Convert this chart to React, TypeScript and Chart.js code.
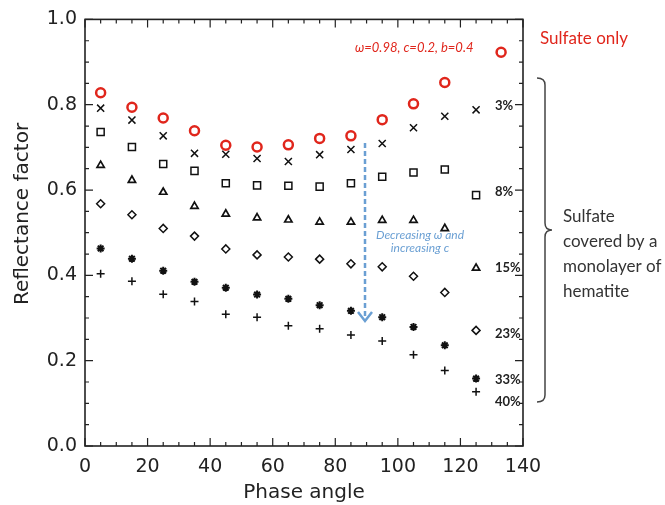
import React, { useEffect, useRef } from "react";
import { Chart, registerables } from "chart.js";

Chart.register(...registerables);

// Phase angles (degrees)
const angles = [5, 15, 25, 35, 45, 55, 65, 75, 85, 95, 105, 115, 125];
const sulfateAngles = [5, 15, 25, 35, 45, 55, 65, 75, 85, 95, 105, 115, 133];

// Reflectance factor series
const sulfateOnly = [0.828, 0.794, 0.769, 0.739, 0.705, 0.701, 0.706, 0.721, 0.727, 0.765, 0.802, 0.852, 0.923];
const hem3 = [0.792, 0.764, 0.727, 0.686, 0.684, 0.674, 0.667, 0.683, 0.695, 0.709, 0.746, 0.773, 0.788];
const hem8 = [0.736, 0.701, 0.661, 0.645, 0.616, 0.611, 0.61, 0.608, 0.616, 0.631, 0.641, 0.648, 0.588];
const hem15 = [0.658, 0.623, 0.595, 0.562, 0.544, 0.535, 0.53, 0.525, 0.525, 0.529, 0.529, 0.51, 0.417];
const hem23 = [0.568, 0.542, 0.51, 0.492, 0.462, 0.448, 0.443, 0.438, 0.427, 0.42, 0.398, 0.36, 0.271];
const hem33 = [0.463, 0.439, 0.411, 0.385, 0.371, 0.355, 0.345, 0.33, 0.317, 0.302, 0.279, 0.236, 0.158];
const hem40 = [0.404, 0.386, 0.356, 0.339, 0.309, 0.302, 0.282, 0.275, 0.26, 0.246, 0.214, 0.177, 0.127];

// Tick settings
const xMin = 0, xMax = 140, xMajor = 20, xMinor = 5;
const yMin = 0, yMax = 1, yMajor = 0.2, yMinor = 0.05;

// Coverage labels on the right (label, value position)
const coverageLabels = ["3%", "8%", "15%", "23%", "33%", "40%"];
const coverageLabelY = [0.798, 0.596, 0.417, 0.264, 0.155, 0.103];

const toPts = (xs: number[], ys: number[]) => ys.map((y, i) => ({ x: xs[i], y }));

const frameAndText = {
  id: "frameAndText",
  afterDraw(chart: any) {
    const { ctx, chartArea: a, scales } = chart;
    const xs = scales.x, ys = scales.y;
    ctx.save();
    // frame
    ctx.strokeStyle = "#222";
    ctx.lineWidth = 1.6;
    ctx.strokeRect(a.left, a.top, a.right - a.left, a.bottom - a.top);
    ctx.lineWidth = 1.2;
    ctx.beginPath();
    for (let v = xMin; v <= xMax + 1e-9; v += xMinor) {
      const p = xs.getPixelForValue(v);
      const major = Math.abs(v / xMajor - Math.round(v / xMajor)) < 1e-6;
      const len = major ? 8 : 4;
      ctx.moveTo(p, a.bottom); ctx.lineTo(p, a.bottom - len);
      ctx.moveTo(p, a.top); ctx.lineTo(p, a.top + len);
    }
    for (let v = yMin; v <= yMax + 1e-9; v += yMinor) {
      const p = ys.getPixelForValue(v);
      const major = Math.abs(v / yMajor - Math.round(v / yMajor)) < 1e-6;
      const len = major ? 8 : 4;
      ctx.moveTo(a.left, p); ctx.lineTo(a.left + len, p);
      ctx.moveTo(a.right, p); ctx.lineTo(a.right - len, p);
    }
    ctx.stroke();

    // axis titles
    ctx.fillStyle = "#222";
    ctx.font = "20px 'DejaVu Sans'";
    ctx.textAlign = "center";
    ctx.textBaseline = "middle";
    ctx.fillText("Phase angle", (a.left + a.right) / 2, 493);
    ctx.save();
    ctx.translate(23, 214);
    ctx.rotate(-Math.PI / 2);
    ctx.fillText("Reflectance factor", 0, 0);
    ctx.restore();

    // coverage labels
    ctx.font = "bold 13px Lato";
    ctx.textAlign = "left";
    ctx.fillStyle = "#222";
    coverageLabels.forEach((t, i) => {
      ctx.fillText(t, 495, ys.getPixelForValue(coverageLabelY[i]));
    });

    // red annotations
    ctx.fillStyle = "#e0261c";
    ctx.font = "italic 13px Lato";
    ctx.textAlign = "left";
    ctx.fillText("ω=0.98, c=0.2, b=0.4", 355, 48);
    ctx.font = "17px Lato";
    ctx.fillText("Sulfate only", 540, 39);

    // brace
    ctx.strokeStyle = "#444";
    ctx.lineWidth = 1.5;
    ctx.beginPath();
    const bx = 537, top = 78, bot = 402, mid = 230, sx = 545, tip = 552;
    ctx.moveTo(bx, top);
    ctx.quadraticCurveTo(sx, top, sx, top + 7);
    ctx.lineTo(sx, mid - 7);
    ctx.quadraticCurveTo(sx, mid, tip, mid);
    ctx.quadraticCurveTo(sx, mid, sx, mid + 7);
    ctx.lineTo(sx, bot - 7);
    ctx.quadraticCurveTo(sx, bot, bx, bot);
    ctx.stroke();

    ctx.fillStyle = "#333";
    ctx.font = "17px Lato";
    ["Sulfate", "covered by a", "monolayer of", "hematite"].forEach((t, i) => {
      ctx.fillText(t, 563, 217 + i * 25);
    });

    // blue dashed arrow
    const ax = xs.getPixelForValue(89.5);
    ctx.strokeStyle = "#6a9fd3";
    ctx.lineWidth = 2.5;
    ctx.setLineDash([5, 3]);
    ctx.beginPath();
    ctx.moveTo(ax, 143);
    ctx.lineTo(ax, 320);
    ctx.stroke();
    ctx.setLineDash([]);
    ctx.beginPath();
    ctx.moveTo(ax - 7, 312);
    ctx.lineTo(ax, 321);
    ctx.lineTo(ax + 7, 312);
    ctx.stroke();

    ctx.fillStyle = "#6a9fd3";
    ctx.font = "italic 12px Lato";
    ctx.textAlign = "center";
    ctx.fillText("Decreasing ω and", 420, 235);
    ctx.fillText("increasing c", 420, 248);
    ctx.restore();
  },
};

export default function App() {
  const ref = useRef<HTMLCanvasElement | null>(null);
  useEffect(() => {
    if (!ref.current) return;
    const black = "#111";
    const mk = (label: string, data: any[], style: string, r: number, color = black, lw = 1.5) => ({
      label,
      data,
      pointStyle: style,
      pointRadius: r,
      pointBorderColor: color,
      pointBackgroundColor: "rgba(0,0,0,0)",
      pointBorderWidth: lw,
      showLine: false,
    });
    const chart = new Chart(ref.current, {
      type: "scatter",
      data: {
        datasets: [
          mk("Sulfate only", toPts(sulfateAngles, sulfateOnly), "circle", 4.5, "#e0261c", 2.5),
          mk("3%", toPts(angles, hem3), "crossRot", 5),
          mk("8%", toPts(angles, hem8), "rect", 5),
          mk("15%", toPts(angles, hem15), "triangle", 4.2, black, 1.7),
          mk("23%", toPts(angles, hem23), "rectRot", 4),
          mk("33%", toPts(angles, hem33), "star", 4, black, 2),
          mk("40%", toPts(angles, hem40), "cross", 4),
        ] as any,
      },
      options: {
        animation: false,
        responsive: false,
        devicePixelRatio: 1,
        layout: { padding: { top: 6, right: 142, left: 0, bottom: 0 } },
        plugins: { legend: { display: false }, tooltip: { enabled: false } },
        scales: {
          x: {
            type: "linear",
            min: xMin,
            max: xMax,
            grid: { display: false, drawTicks: false },
            border: { display: false },
            ticks: { stepSize: xMajor, color: "#222", font: { family: "DejaVu Sans", size: 19 }, padding: 10, maxRotation: 0 },
            afterFit: (s: any) => { s.height = 59; },
          },
          y: {
            type: "linear",
            min: yMin,
            max: yMax,
            grid: { display: false, drawTicks: false },
            border: { display: false },
            ticks: {
              stepSize: yMajor,
              color: "#222",
              font: { family: "DejaVu Sans", size: 19 },
              padding: 8,
              callback: (v: any) => Number(v).toFixed(1),
            },
            afterFit: (s: any) => { s.width = 85; },
          },
        },
      },
      plugins: [frameAndText],
    });
    return () => chart.destroy();
  }, []);
  return (
    <div style={{ position: "absolute", left: 0, top: 0, width: 665, height: 505, background: "#fff" }}>
      <canvas ref={ref} width={665} height={505} />
    </div>
  );
}
